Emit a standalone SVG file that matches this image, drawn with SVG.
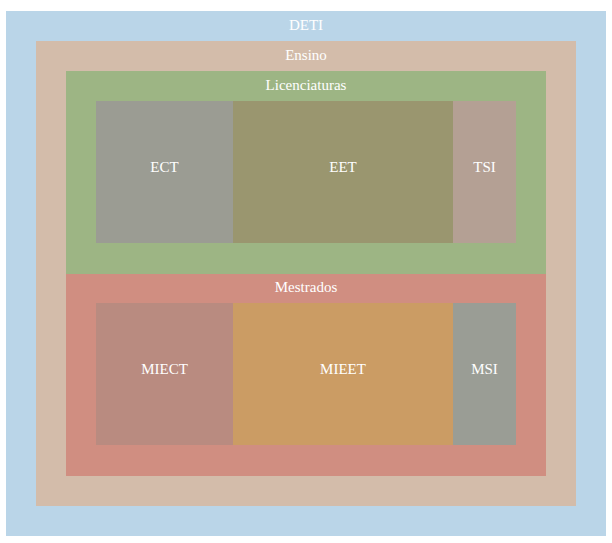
<svg xmlns="http://www.w3.org/2000/svg" width="612" height="543" viewBox="0 0 612 543">
<style>
text{font-family:'Liberation Serif','Times New Roman',Times,serif;font-size:15px;fill:#ffffff;text-anchor:middle}
</style>
<rect width="612" height="543" fill="#ffffff"/>
<g id="deti"><rect x="6" y="11" width="600" height="525" fill="#bad5e8"/><text x="306" y="30">DETI</text></g>
<g id="ensino"><rect x="36" y="41" width="540" height="465" fill="#d3bcaa"/><text x="306" y="60">Ensino</text></g>
<g id="licenciaturas"><rect x="66" y="71" width="480" height="203" fill="#9db584"/><text x="306" y="90">Licenciaturas</text></g>
<g id="ect"><rect x="96" y="101" width="137" height="142" fill="#9b9c93"/><text x="164.5" y="172">ECT</text></g>
<g id="eet"><rect x="233" y="101" width="220" height="142" fill="#9a966f"/><text x="343" y="172">EET</text></g>
<g id="tsi"><rect x="453" y="101" width="63" height="142" fill="#b4a094"/><text x="484.5" y="172">TSI</text></g>
<g id="mestrados"><rect x="66" y="274" width="480" height="202" fill="#d08e81"/><text x="306" y="292">Mestrados</text></g>
<g id="miect"><rect x="96" y="303" width="137" height="142" fill="#b98b80"/><text x="164.5" y="374">MIECT</text></g>
<g id="mieet"><rect x="233" y="303" width="220" height="142" fill="#cb9c64"/><text x="343" y="374">MIEET</text></g>
<g id="msi"><rect x="453" y="303" width="63" height="142" fill="#9a9d95"/><text x="484.5" y="374">MSI</text></g>
<g id="connectors"></g>
</svg>
